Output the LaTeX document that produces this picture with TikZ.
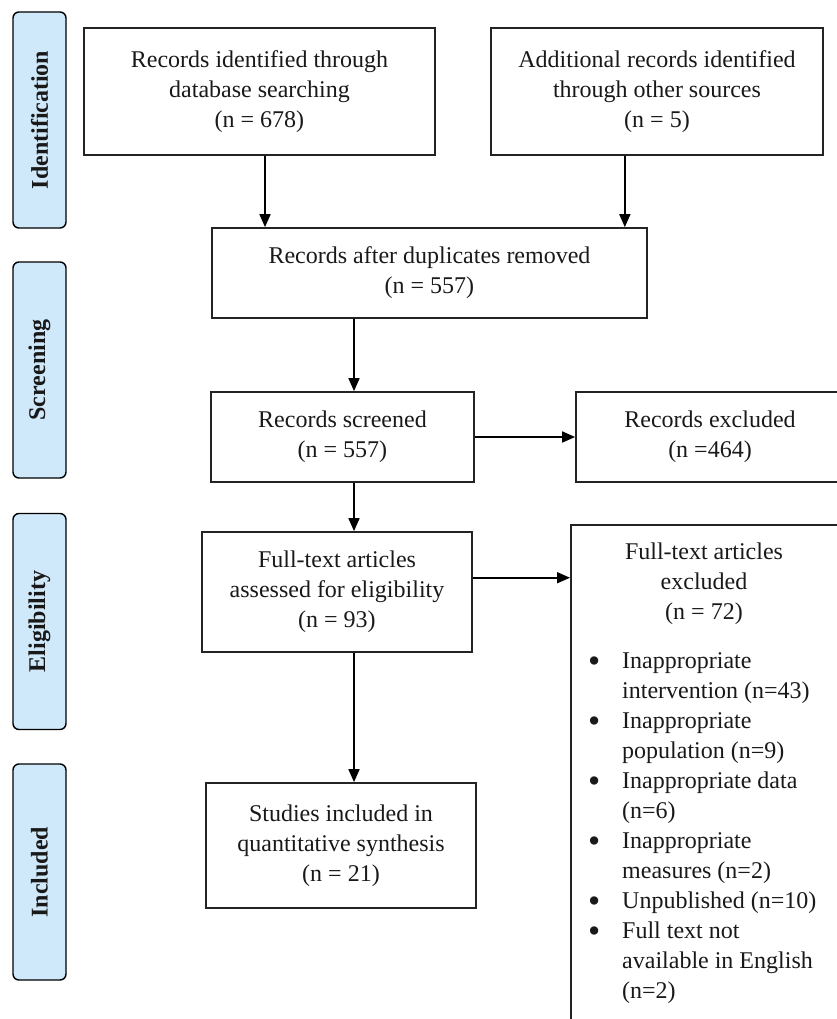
\documentclass[tikz,border=0pt]{standalone}
\usepackage{fontspec}
\setmainfont{Liberation Serif}
\usetikzlibrary{arrows.meta,positioning}
\definecolor{sideblue}{RGB}{207,233,250}
\definecolor{boxline}{RGB}{35,35,35}
\newcommand{\bul}{\makebox[34pt][l]{\raisebox{-4pt}[0pt][0pt]{\scalebox{1.45}{\textbullet}}}}
\newcommand{\ind}{\hspace*{34pt}}

\tikzset{
  stage/.style={draw=black,fill=sideblue,rounded corners=6pt,line width=1.4pt,
    rotate=90,minimum width=216pt,minimum height=53pt,inner sep=0pt,
    font=\fontsize{24}{30}\selectfont\bfseries},
  outbox/.style={draw=boxline,line width=1.7pt,align=center,inner sep=0pt},
  flow/.style={->,line width=1.7pt,draw=black}
}

\begin{document}
\begin{tikzpicture}[x=1pt,y=-1pt,>={Triangle[length=13pt,width=11pt]},
  every node/.style={font=\fontsize{24}{30}\selectfont,text=black!90}]
  \useasboundingbox (0,0) rectangle (837,1019);
  \clip (0,0) rectangle (837,1019);

  % phases:
  \node[stage] (ident) at (39.5,120) {Identification};
  \node[stage] (scr)   at (39.5,370) {Screening};
  \node[stage] (elig)  at (39.5,621.5) {Eligibility};
  \node[stage] (inc)   at (39.5,872) {Included};

  % boxes:
  \node[outbox,minimum width=351pt,minimum height=127pt] (dbs) at (259.5,91.5)
    {Records identified through\\database searching\\(n = 678)};
  \node[outbox,minimum width=332pt,minimum height=127pt] (other) at (657,91.5)
    {Additional records identified\\through other sources\\(n = 5)};
  \node[outbox,minimum width=435pt,minimum height=90pt] (dup) at (429.5,273)
    {Records after duplicates removed\\(n = 557)};
  \node[outbox,minimum width=263pt,minimum height=90pt] (screen) at (342.5,437)
    {Records screened\\(n = 557)};
  \node[outbox,minimum width=268pt,minimum height=90pt] (recexcl) at (710,437)
    {Records excluded\\(n =464)};
  \node[outbox,minimum width=270pt,minimum height=120pt] (fulltext) at (337,592)
    {Full-text articles\\assessed for eligibility\\(n = 93)};
  \node[outbox,minimum width=270pt,minimum height=125pt] (incl) at (341,845.5)
    {Studies included in\\quantitative synthesis\\(n = 21)};
  \node[outbox,anchor=north west,minimum width=275pt,minimum height=520pt] (ftexcl) at (570,524) {};
  \node[align=center] (fttitle) at (704,584)
    {Full-text articles\\excluded\\(n = 72)};
  \node[align=left,anchor=north west,inner sep=0pt] (ftlist) at (588,652) {%
    \bul Inappropriate\\
    \ind intervention (n=43)\\
    \bul Inappropriate\\
    \ind population (n=9)\\
    \bul Inappropriate data\\
    \ind (n=6)\\
    \bul Inappropriate\\
    \ind measures (n=2)\\
    \bul Unpublished (n=10)\\
    \bul Full text not\\
    \ind available in English\\
    \ind (n=2)};

  % arrows:
  \coordinate (spine) at (354,0);
  \coordinate (dbsout) at ([xshift=5.5pt]dbs.south);
  \coordinate (dupin) at ([xshift=-23pt]dup.north east);
  \draw[flow] (dbsout) -- (dbsout |- dup.north);
  \draw[flow] (other.south -| dupin) -- (dupin);
  \draw[flow] (dup.south -| spine) -- (screen.north -| spine);
  \draw[flow] (screen.east) -- (recexcl.west);
  \draw[flow] (screen.south -| spine) -- (fulltext.north -| spine);
  \draw[flow] (fulltext.6) -- (fulltext.6 -| ftexcl.west);
  \draw[flow] (fulltext.south -| spine) -- (incl.north -| spine);
\end{tikzpicture}
\end{document}
